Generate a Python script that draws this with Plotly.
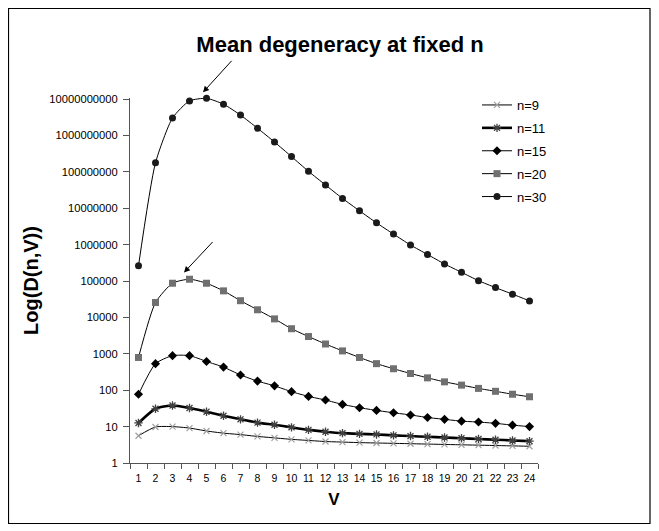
import plotly.graph_objects as go

V = list(range(1, 25))

# log10 values
log_n9 = [0.75, 0.99, 1.00, 0.96, 0.88, 0.82, 0.78, 0.73, 0.69, 0.65, 0.62, 0.59,
          0.575, 0.56, 0.55, 0.54, 0.53, 0.52, 0.51, 0.50, 0.49, 0.48, 0.47, 0.46]
log_n11 = [1.10, 1.49, 1.58, 1.51, 1.41, 1.30, 1.20, 1.11, 1.05, 0.98, 0.91, 0.86,
           0.82, 0.80, 0.785, 0.76, 0.74, 0.72, 0.70, 0.68, 0.66, 0.64, 0.62, 0.60]
log_n15 = [1.89, 2.73, 2.95, 2.95, 2.79, 2.635, 2.42, 2.25, 2.12, 1.96, 1.83, 1.73,
           1.61, 1.52, 1.445, 1.38, 1.32, 1.25, 1.20, 1.15, 1.125, 1.09, 1.04, 1.00]
log_n20 = [2.90, 4.41, 4.94, 5.05, 4.94, 4.73, 4.46, 4.21, 3.96, 3.69, 3.475, 3.27,
           3.08, 2.90, 2.73, 2.59, 2.46, 2.34, 2.23, 2.14, 2.05, 1.97, 1.89, 1.82]
log_n30 = [5.42, 8.25, 9.48, 9.95, 10.02, 9.86, 9.56, 9.20, 8.82, 8.42, 8.015, 7.64,
           7.27, 6.93, 6.60, 6.29, 5.99, 5.73, 5.47, 5.24, 5.01, 4.82, 4.64, 4.455]

n9 = [10 ** v for v in log_n9]
n11 = [10 ** v for v in log_n11]
n15 = [10 ** v for v in log_n15]
n20 = [10 ** v for v in log_n20]
n30 = [10 ** v for v in log_n30]

y_tickvals = [10 ** k for k in range(0, 11)]
y_ticktext = ["1", "10", "100", "1000", "10000", "100000", "1000000", "10000000",
              "100000000", "1000000000", "10000000000"]
x_ticktext = [str(v) for v in V]

FONT = "Arial, Liberation Sans, sans-serif"

fig = go.Figure()

series = [
    ("n=9", n9, dict(color="#000000", width=1), dict(symbol="x-thin-open", size=6, color="#a0a0a0", line=dict(color="#a0a0a0", width=1.2))),
    ("n=11", n11, dict(color="#000000", width=2.6), dict(symbol="asterisk-open", size=7, color="#404040", line=dict(color="#404040", width=1.3))),
    ("n=15", n15, dict(color="#000000", width=1), dict(symbol="diamond", size=7, color="#000000")),
    ("n=20", n20, dict(color="#000000", width=1), dict(symbol="square", size=7, color="#707070")),
    ("n=30", n30, dict(color="#000000", width=1), dict(symbol="circle", size=7, color="#1a1a1a")),
]
for name, ys, ln, mk in series:
    fig.add_trace(go.Scatter(
        x=V, y=ys, name=name, mode="lines+markers",
        line=dict(shape="spline", smoothing=0.6, **ln), marker=mk,
        legendgroup=name, cliponaxis=False,
    ))

# page body has an 8px margin: work in page pixels, shift by OFF
OFF = 8
W, H = 659 - OFF, 531 - OFF
L = 130 - OFF
R = W - (538 - OFF)
T = 98 - OFF
B = int(round(H - (463.3 - OFF)))
pw = W - L - R
ph = H - T - B

def px(x):
    return (x - OFF - L) / pw

def py(y):
    return (H - B - (y - OFF)) / ph

fig.update_layout(
    width=W, height=H,
    margin=dict(l=L, r=R, t=T, b=B, pad=0),
    paper_bgcolor="white", plot_bgcolor="white",
    font=dict(family=FONT, color="black", size=11),
    title=dict(text="<b>Mean degeneracy at fixed n</b>", font=dict(size=22, family=FONT),
               x=0.51, xanchor="center", y=(H - (44 - OFF)) / H, yanchor="middle"),
    legend=dict(x=px(477), y=py(90), xanchor="left", yanchor="top",
                font=dict(size=13, family=FONT), tracegroupgap=3,
                bgcolor="rgba(0,0,0,0)", itemwidth=30),
    showlegend=True,
)

fig.update_xaxes(
    range=[0.5, 24.5], tickvals=V, ticktext=x_ticktext, ticks="",
    showline=True, linecolor="#555555", linewidth=1, showgrid=False, zeroline=False,
    tickfont=dict(size=10.5, family=FONT), ticklabelstandoff=5,
    minor=dict(ticks="outside", tick0=0.5, dtick=1, ticklen=5, tickcolor="#555555", showgrid=False),
    title=dict(text="<b>V</b>", font=dict(size=17, family=FONT), standoff=10),
)
fig.update_yaxes(
    type="log", range=[0, 10.03], tickvals=y_tickvals, ticktext=y_ticktext,
    ticks="outside", ticklen=6, tickcolor="#555555",
    showline=True, linecolor="#555555", linewidth=1, showgrid=False, zeroline=False,
    tickfont=dict(size=11.2, family=FONT), ticklabelstandoff=3,
    title=dict(text="<b>Log(D(n,V))</b>", font=dict(size=20, family=FONT), standoff=5),
)

# outer frame
fig.add_shape(type="rect", xref="paper", yref="paper",
              x0=px(8.5), x1=px(650), y0=py(523.5), y1=py(8.5),
              line=dict(color="black", width=1.2), fillcolor="rgba(0,0,0,0)", layer="below")

# arrows pointing at the maxima
fig.add_annotation(x=px(203), y=py(92.3), xref="paper", yref="paper", ax=30, ay=-33,
                   showarrow=True, arrowhead=2, arrowsize=1.2, arrowwidth=1, arrowcolor="black", text="")
fig.add_annotation(x=px(184), y=py(272.5), xref="paper", yref="paper", ax=30, ay=-32,
                   showarrow=True, arrowhead=2, arrowsize=1.2, arrowwidth=1, arrowcolor="black", text="")

fig.write_html("out.html")
